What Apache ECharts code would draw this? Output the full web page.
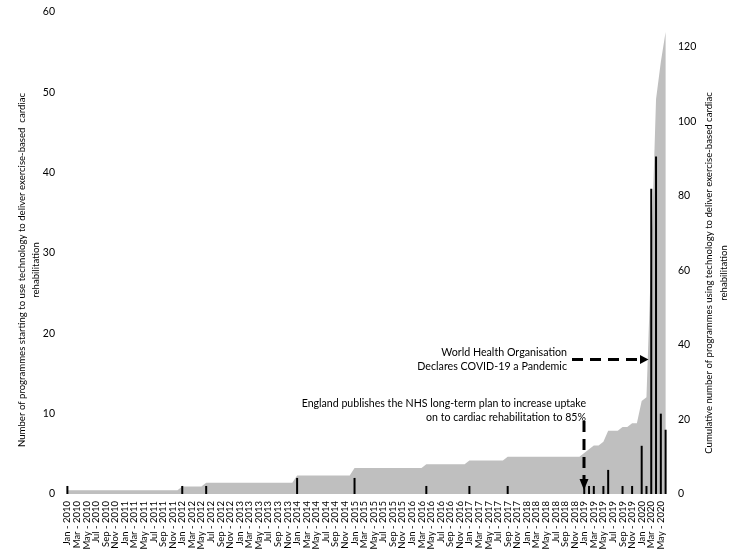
<!DOCTYPE html>
<html>
<head>
<meta charset="utf-8">
<script src="https://cdn.jsdelivr.net/npm/echarts@6/dist/echarts.min.js"></script>
<style>
html,body{margin:0;padding:0;background:#fff;}
#chart{width:740px;height:556px;}
</style>
</head>
<body>
<div id="chart"></div>
<script>
// Tick label parts
var monthNames = ['Jan','Feb','Mar','Apr','May','Jun','Jul','Aug','Sep','Oct','Nov','Dec'];
var years = [2010,2011,2012,2013,2014,2015,2016,2017,2018,2019,2020];
var lastMonthIndex2020 = 5; // data run to Jun 2020

// Monthly number of programmes starting (Jan 2010 .. Jun 2020)
var newProgrammes = [
  1,0,0,0,0,0,0,0,0,0,0,0,   // 2010
  0,0,0,0,0,0,0,0,0,0,0,0,   // 2011
  1,0,0,0,0,1,0,0,0,0,0,0,   // 2012
  0,0,0,0,0,0,0,0,0,0,0,0,   // 2013
  2,0,0,0,0,0,0,0,0,0,0,0,   // 2014
  2,0,0,0,0,0,0,0,0,0,0,0,   // 2015
  0,0,0,1,0,0,0,0,0,0,0,0,   // 2016
  1,0,0,0,0,0,0,0,1,0,0,0,   // 2017
  0,0,0,0,0,0,0,0,0,0,0,0,   // 2018
  1,1,1,0,1,3,0,0,1,0,1,0,   // 2019
  6,1,38,42,10,8             // 2020
];

// Cumulative number of programmes (read from the grey area)
var cumulativeProgrammes = [
  1,1,1,1,1,1,1,1,1,1,1,1,
  1,1,1,1,1,1,1,1,1,1,1,1,
  2,2,2,2,2,3,3,3,3,3,3,3,
  3,3,3,3,3,3,3,3,3,3,3,3,
  5,5,5,5,5,5,5,5,5,5,5,5,
  7,7,7,7,7,7,7,7,7,7,7,7,
  7,7,7,8,8,8,8,8,8,8,8,8,
  9,9,9,9,9,9,9,9,10,10,10,10,
  10,10,10,10,10,10,10,10,10,10,10,10,
  11,12,13,13,14,17,17,17,18,18,19,19,
  25,26,64,106,116,124
];

var categories = [];
years.forEach(function (y) {
  monthNames.forEach(function (m, i) {
    if (y === 2020 && i > lastMonthIndex2020) return;
    categories.push(m + ' - ' + y);
  });
});

var leftTicks = {min: 0, max: 60, interval: 10};
var rightTicks = {min: 0, max: 129.4, interval: 20};

var leftTitle = ['Number of programmes starting to use technology to deliver exercise-based  cardiac', 'rehabilitation'];
var rightTitle = ['Cumulative number of programmes using technology to deliver exercise-based cardiac', 'rehabilitation'];

var FONT = 'Lato';
var chart = echarts.init(document.getElementById('chart'), null, {renderer: 'canvas'});

function vText(str, x, y) {
  return {
    type: 'text', x: x, y: y, rotation: Math.PI / 2, z: 10,
    style: {text: str, font: '9.6px ' + FONT, fill: '#000', align: 'center', verticalAlign: 'middle'}
  };
}

var option = {
  animation: false,
  backgroundColor: '#ffffff',
  textStyle: {fontFamily: FONT, color: '#000'},
  grid: {left: 65, right: 72, top: 12, bottom: 62, containLabel: false},
  xAxis: {
    type: 'category',
    data: categories,
    boundaryGap: true,
    axisLine: {show: false},
    axisTick: {show: false},
    splitLine: {show: false},
    axisLabel: {
      interval: 0,
      showMinLabel: true,
      showMaxLabel: true,
      hideOverlap: false,
      rotate: 90,
      fontSize: 9.5,
      color: '#000',
      fontFamily: FONT,
      margin: 7,
      formatter: function (val, idx) { return idx % 2 === 0 ? val : ''; }
    }
  },
  yAxis: [
    {
      type: 'value',
      position: 'left',
      min: leftTicks.min, max: leftTicks.max, interval: leftTicks.interval,
      axisLine: {show: false}, axisTick: {show: false}, splitLine: {show: false},
      axisLabel: {fontSize: 10.5, color: '#000', fontFamily: FONT, margin: 10}
    },
    {
      type: 'value',
      position: 'right',
      min: rightTicks.min, max: rightTicks.max, interval: rightTicks.interval,
      axisLine: {show: false}, axisTick: {show: false}, splitLine: {show: false},
      axisLabel: {
        fontSize: 10.5, color: '#000', fontFamily: FONT, margin: 10,
        formatter: function (v) { return (v % 20 === 0) ? String(v) : ''; }
      }
    }
  ],
  series: [
    {
      name: 'Cumulative',
      type: 'line',
      yAxisIndex: 1,
      data: cumulativeProgrammes,
      symbol: 'none',
      lineStyle: {width: 0, color: '#bfbfbf'},
      areaStyle: {color: '#bfbfbf', opacity: 1},
      z: 1
    },
    {
      name: 'New',
      type: 'bar',
      yAxisIndex: 0,
      data: newProgrammes,
      barWidth: 2,
      itemStyle: {color: '#000'},
      z: 3
    }
  ],
  graphic: [
    vText(leftTitle[0], 22, 270),
    vText(leftTitle[1], 36, 270),
    vText(rightTitle[0], 709, 273),
    vText(rightTitle[1], 724, 273),
    // WHO annotation
    {
      type: 'text', x: 567, y: 346, z: 10,
      style: {
        text: 'World Health Organisation\nDeclares COVID-19 a Pandemic',
        font: '10.7px ' + FONT, fill: '#000', align: 'right', verticalAlign: 'top', lineHeight: 13.5
      }
    },
    {
      type: 'line', z: 10,
      shape: {x1: 572, y1: 359.5, x2: 641, y2: 359.5},
      style: {stroke: '#000', lineWidth: 3, lineDash: [11, 7]}
    },
    {
      type: 'polygon', z: 10,
      shape: {points: [[640, 355], [648.5, 359.5], [640, 364]]},
      style: {fill: '#000'}
    },
    // NHS plan annotation
    {
      type: 'text', x: 586, y: 397, z: 10,
      style: {
        text: 'England publishes the NHS long-term plan to increase uptake\non to cardiac rehabilitation to 85%',
        font: '10.6px ' + FONT, fill: '#000', align: 'right', verticalAlign: 'top', lineHeight: 14
      }
    },
    {
      type: 'line', z: 10,
      shape: {x1: 584, y1: 421, x2: 584, y2: 479},
      style: {stroke: '#000', lineWidth: 3, lineDash: [11, 7]}
    },
    {
      type: 'polygon', z: 10,
      shape: {points: [[579.5, 479], [588.5, 479], [584, 490]]},
      style: {fill: '#000'}
    }
  ]
};
chart.setOption(option);
</script>
</body>
</html>
